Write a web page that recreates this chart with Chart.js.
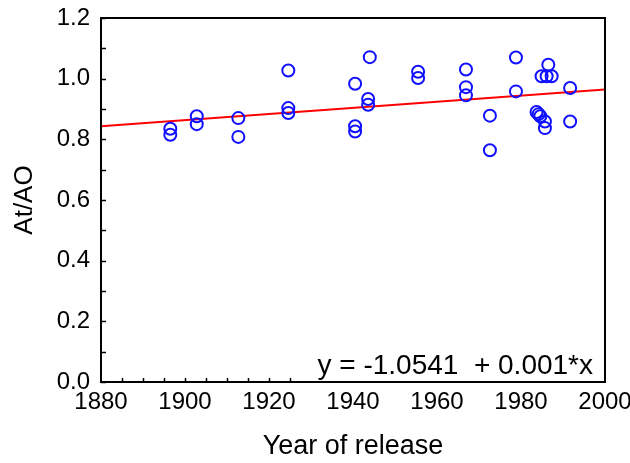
<!DOCTYPE html>
<html>
<head>
<meta charset="utf-8">
<script src="https://cdn.jsdelivr.net/npm/chart.js@4"></script>
<style>
  html, body { margin: 0; padding: 0; background: #fff; }
  #wrap { width: 630px; height: 463px; }
</style>
</head>
<body>
<div id="wrap"><canvas id="chart" width="630" height="463"></canvas></div>
<script>
const years = [1896.5, 1896.5, 1902.8, 1902.8, 1912.7, 1912.7, 1924.6, 1924.6, 1924.6,
  1940.5, 1940.5, 1940.5, 1944, 1943.6, 1943.6, 1955.5, 1955.5, 1966.9, 1966.9, 1966.9,
  1972.6, 1972.6, 1978.8, 1978.8, 1983.7, 1984.2, 1984.6, 1985.7, 1985.7, 1984.9, 1986.1,
  1987.3, 1986.5, 1991.7, 1991.7];
const ratios = [0.835, 0.815, 0.876, 0.850, 0.870, 0.808, 1.027, 0.903, 0.887,
  0.983, 0.843, 0.826, 1.071, 0.933, 0.914, 1.023, 1.002, 1.030, 0.972, 0.945,
  0.878, 0.764, 1.070, 0.958, 0.890, 0.883, 0.876, 0.859, 0.837, 1.008, 1.008,
  1.008, 1.046, 0.969, 0.859];

// Fitted line ends as drawn
const fitYears = [1880, 2000];
const fitValues = [0.843, 0.964];

const xTicks = [1880, 1900, 1920, 1940, 1960, 1980, 2000];
const yTicks = [0.0, 0.2, 0.4, 0.6, 0.8, 1.0, 1.2];
const yMinorTicks = [0.1, 0.3, 0.5, 0.7, 0.9, 1.1];
const xMinorTicks = [1885, 1890, 1895, 1900, 1905, 1910, 1915, 1920, 1925];
const equation = 'y = -1.0541  + 0.001*x';

const FONT = 'Arial, "Liberation Sans", sans-serif';

// frame, inside ticks and the equation label
const framePlugin = {
  id: 'frame',
  afterDraw(chart) {
    const { ctx, chartArea: a, scales } = chart;
    ctx.save();
    ctx.strokeStyle = '#000';
    ctx.lineWidth = 1.5;
    ctx.beginPath();
    yTicks.concat(yMinorTicks).forEach(v => {
      const py = Math.round(scales.y.getPixelForValue(v)) + 0.5;
      ctx.moveTo(a.left, py);
      ctx.lineTo(a.left + 5, py);
    });
    xMinorTicks.forEach(v => {
      const px = Math.round(scales.x.getPixelForValue(v)) + 0.5;
      ctx.moveTo(px, a.bottom);
      ctx.lineTo(px, a.bottom - 4);
    });
    ctx.stroke();

    ctx.lineWidth = 2;
    ctx.strokeRect(a.left, a.top, a.right - a.left, a.bottom - a.top);

    ctx.fillStyle = '#000';
    ctx.font = '28px ' + FONT;
    ctx.textAlign = 'right';
    ctx.textBaseline = 'alphabetic';
    ctx.fillText(equation, a.right - 12, a.bottom - 8);
    ctx.restore();
  }
};

const points = years.map((yr, i) => ({ x: yr, y: ratios[i] }));
const fitPoints = fitYears.map((yr, i) => ({ x: yr, y: fitValues[i] }));

new Chart(document.getElementById('chart'), {
  type: 'scatter',
  data: {
    datasets: [
      {
        type: 'line',
        data: fitPoints,
        borderColor: '#ff0000',
        borderWidth: 2,
        pointRadius: 0,
        fill: false,
        order: 2
      },
      {
        data: points,
        pointStyle: 'circle',
        pointRadius: 6,
        pointBorderWidth: 2,
        pointBorderColor: '#1010ff',
        pointBackgroundColor: 'rgba(0,0,0,0)',
        order: 1
      }
    ]
  },
  options: {
    responsive: false,
    animation: false,
    layout: { padding: { top: 18, right: 25, left: 9, bottom: 0 } },
    plugins: { legend: { display: false }, tooltip: { enabled: false } },
    scales: {
      x: {
        type: 'linear',
        min: 1880,
        max: 2000,
        afterBuildTicks: s => { s.ticks = xTicks.map(v => ({ value: v })); },
        afterFit: s => { s.height = 81; s.paddingLeft = 0; s.paddingRight = 0; },
        grid: { display: false, drawTicks: false },
        border: { display: false },
        ticks: {
          color: '#000',
          font: { family: FONT, size: 24 },
          padding: 6,
          maxRotation: 0,
          callback: v => String(v)
        },
        title: {
          display: true,
          text: 'Year of release',
          color: '#000',
          font: { family: FONT, size: 27 },
          padding: { top: 2, bottom: 0 }
        }
      },
      y: {
        min: 0,
        max: 1.2,
        afterBuildTicks: s => { s.ticks = yTicks.map(v => ({ value: v })); },
        afterFit: s => { s.width = 92; s.paddingTop = 0; s.paddingBottom = 0; },
        grid: { display: false, drawTicks: false },
        border: { display: false },
        ticks: {
          color: '#000',
          font: { family: FONT, size: 24 },
          padding: 11,
          callback: v => Number(v).toFixed(1)
        },
        title: {
          display: true,
          text: 'At/AO',
          color: '#000',
          font: { family: FONT, size: 26 },
          padding: { top: 0, bottom: 0 }
        }
      }
    }
  },
  plugins: [framePlugin]
});
</script>
</body>
</html>
